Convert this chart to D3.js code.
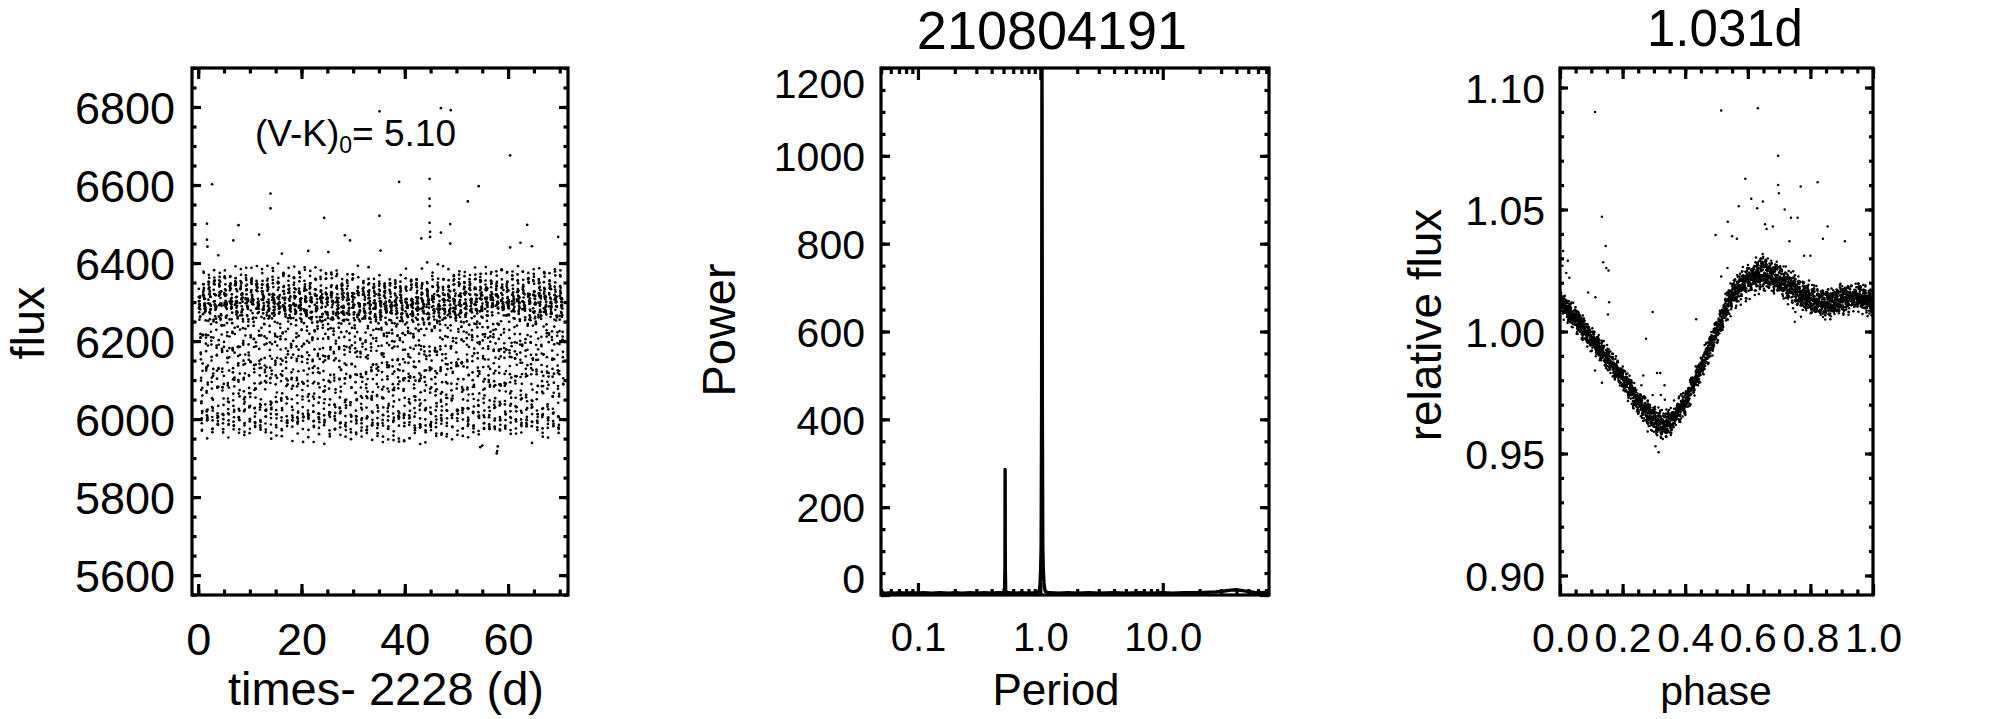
<!DOCTYPE html>
<html><head><meta charset="utf-8">
<script src="https://cdn.jsdelivr.net/npm/d3@7"></script>
<style>
body{margin:0;background:#fff}
svg{display:block}
text{font-family:"Liberation Sans",Arial,Helvetica,sans-serif;fill:#000}
</style>
</head><body>
<svg id="c" width="2005" height="719"></svg>
<script>
// ---------------- data ----------------
const starId = "210804191";
const periodLabel = "1.031d";
const colourLabel = ["(V-K)", "0", "= 5.10"];
const foldPeriod = 1.031;
const cadence = 0.020434;
const tStart = 0.1, tEnd = 70.7, tRef = 0.37;

const fluxLevelT = [0, 10, 20, 30, 40, 50, 60, 71];
const fluxLevel  = [6210, 6215, 6210, 6205, 6200, 6210, 6215, 6210];

const phaseKnots   = [0, 0.05, 0.10, 0.15, 0.20, 0.25, 0.30, 0.33, 0.36, 0.40, 0.45, 0.50, 0.55, 0.60, 0.65, 0.70, 0.75, 0.80, 0.85, 0.90, 0.95, 1.00];
const meanRelFlux  = [1.012, 1.005, 0.997, 0.989, 0.981, 0.971, 0.964, 0.961, 0.964, 0.971, 0.985, 1.000, 1.015, 1.021, 1.024, 1.021, 1.017, 1.013, 1.011, 1.013, 1.014, 1.012];
const scatterRelFlux = [0.0026, 0.0026, 0.0026, 0.0026, 0.0026, 0.0027, 0.003, 0.0031, 0.003, 0.0028, 0.0026, 0.0027, 0.0033, 0.0035, 0.0036, 0.0035, 0.0034, 0.0032, 0.003, 0.003, 0.003, 0.0027];

// fixed residual tables (sigma units)
const noiseA = [0.31,-1.12,0.84,-0.23,1.41,-0.68,0.07,-1.53,0.62,0.95,-0.41,0.02,1.13,-0.94,0.48,-0.29,-1.21,0.71,0.19,-0.57,1.32,-0.09,-0.83,0.44,1.02,-1.38,0.24,-0.51,0.79,-0.17,1.58,-1.01,0.36,0.58,-0.73,-0.12,1.21,-1.29,0.53,-0.02,-0.44,0.88,-0.91,0.13,1.47,-0.62,0.41,-1.09,0.67,-0.33,0.22,0.99,-0.79,-0.21,0.61,-1.59,0.28,0.82,-0.47,1.08,-0.06];
const noiseB = [-0.86,0.47,1.24,-0.35,-1.47,0.12,0.93,-0.64,0.29,-1.18,1.51,-0.08,0.66,-0.97,0.38,1.09,-0.26,-1.35,0.81,0.04,-0.55,1.37,-0.78,0.17,-1.03,0.59,1.19,-0.42,-0.14,0.91,-1.56,0.33,0.74,-0.69,1.45,-0.31,-0.92,0.08,1.28,-1.22,0.51,-0.04,0.97,-0.59,-1.41,0.23,0.69,-0.18,1.16,-0.87,0.39,-1.31,0.85,0.15,-0.49,1.54,-0.71,-0.11,0.57,-1.07,1.01,-0.38,0.26,-1.49,0.77,-0.24,1.33];

const lcOutliers = [[2.7,6602],[1.7,6501],[1.7,6460],[1.8,6442],[3.9,6420],[7.8,6497],[6.8,6458],[11.8,6473],[14.0,6578],[14.0,6540],[16.2,6424],[21.3,6431],[24.4,6516],[25.2,6428],[28.4,6471],[29.4,6458],[35.1,6789],[35.1,6521],[35.3,6432],[38.9,6608],[43.2,6463],[44.8,6616],[44.8,6565],[44.8,6546],[44.8,6503],[44.9,6480],[44.9,6467],[47.0,6797],[48.9,6792],[47.0,6478],[48.8,6500],[48.8,6450],[52.2,6558],[54.3,6597],[60.4,6676],[63.7,6498],[60.4,6440],[62.4,6452],[64.6,6443],[69.7,6467],[57.9,5918],[58.0,5930],[55.0,5932],[54.6,5928],[57.8,5912]];

const foldOutliers = [[0.112,1.090],[0.515,1.0906],[0.632,1.0915],[0.697,1.072],[0.134,1.047],[0.592,1.0626],[0.697,1.060],[0.699,1.0567],[0.769,1.0594],[0.823,1.0612],[0.571,1.0513],[0.611,1.0544],[0.630,1.0505],[0.648,1.0533],[0.718,1.050],[0.738,1.0466],[0.759,1.0466],[0.536,1.045],[0.497,1.0396],[0.655,1.044],[0.66,1.042],[0.68,1.043],[0.55,1.039],[0.565,1.038],[0.146,1.035],[0.138,1.0284],[0.148,1.026],[0.155,1.025],[0.733,1.037],[0.84,1.038],[0.855,1.043],[0.91,1.037],[0.78,1.031],[0.80,1.031],[0.01,1.033],[0.025,1.029],[0.008,1.027],[0.02,1.024],[0.03,1.022],[0.09,1.016],[0.157,1.012],[0.113,1.014],[0.153,1.007],[0.296,1.008],[0.275,0.997],[0.435,1.005],[0.515,1.0225],[0.535,1.026],[0.75,1.004],[0.752,1.008],[0.77,1.006],[0.266,0.982],[0.296,0.974],[0.31,0.983],[0.32,0.983],[0.322,0.974],[0.334,0.978],[0.335,0.972],[0.34,0.968],[0.26,0.978],[0.134,0.979],[0.112,0.984],[0.315,0.9505],[0.305,0.953],[0.28,0.959]];

// periodogram (panel 2)
const periods = [0.0499,0.055,0.06,0.065,0.07,0.08,0.09,0.1,0.11,0.13,0.15,0.18,0.2,0.23,0.27,0.3,0.35,0.4,0.45,0.48,0.5,0.51,0.514,0.5155,0.517,0.521,0.53,0.56,0.6,0.7,0.8,0.9,0.95,0.98,0.995,1.005,1.015,1.024,1.031,1.038,1.047,1.058,1.07,1.085,1.1,1.15,1.25,1.4,1.7,2,2.5,3,4,5,6.5,8,10,12,15,18,22,27,32,36,40,45,50,56,62,68,73.8];
const powers  = [5,4,5,4,5,4,5,4,5,4,5,4,5,4,5,4,5,4,5,5,6,10,60,286,60,10,6,5,4,5,4,5,6,10,25,55,110,420,1260,420,110,55,28,14,8,6,5,4,5,4,5,4,5,4,5,4,5,4,5,5,6,7,9,11,12,10,8,6,5,6,7];

// ticks
const lcXTicks = [0, 20, 40, 60];
const lcXMinor = d3.range(0, 71, 5);
const lcYTicks = [5600, 5800, 6000, 6200, 6400, 6600, 6800];
const lcYMinor = d3.range(5550, 6901, 50);
const pgXTicks = [0.1, 1, 10];
const pgXTickLabels = ["0.1", "1.0", "10.0"];
const pgXMinor = [0.05,0.06,0.07,0.08,0.09,0.2,0.3,0.4,0.5,0.6,0.7,0.8,0.9,2,3,4,5,6,7,8,9,20,30,40,50,60,70];
const pgYTicks = [0, 200, 400, 600, 800, 1000, 1200];
const pgYMinor = d3.range(0, 1201, 50);
const phXTicks = [0, 0.2, 0.4, 0.6, 0.8, 1.0];
const phXMinor = d3.range(0, 1.0001, 0.05);
const phYTicks = [0.90, 0.95, 1.00, 1.05, 1.10];
const phYMinor = d3.range(0.90, 1.1001, 0.01);

// ---------------- build light curve from cadence grid ----------------
const meanAt = d3.scaleLinear().domain(phaseKnots).range(meanRelFlux);
const sigAt = d3.scaleLinear().domain(phaseKnots).range(scatterRelFlux);
const levelAt = d3.scaleLinear().domain(fluxLevelT).range(fluxLevel);
const lcPts = [], foldPts = [];
for (let i = 0; ; i++) {
  const t = tStart + i * cadence;
  if (t > tEnd) break;
  let ph = ((t - tRef) / foldPeriod) % 1; if (ph < 0) ph += 1;
  const nz = (noiseA[i % noiseA.length] + noiseB[i % noiseB.length]) * 0.75;
  const rel = meanAt(ph) + sigAt(ph) * nz;
  lcPts.push([t, levelAt(t) * rel]);
  foldPts.push([ph, rel]);
}
lcOutliers.forEach(d => lcPts.push(d));
foldOutliers.forEach(d => foldPts.push(d));

// ---------------- drawing ----------------
const svg = d3.select("#c");
const FONT = "Liberation Sans, Arial, Helvetica, sans-serif";
const Y0 = 68, Y1 = 595;

function box(g, x, y, o) {
  const [xa, xb] = x.range(), [ya, yb] = y.range();
  const style = s => s.call(a => a.select(".domain").remove())
    .call(a => a.selectAll(".tick line").attr("stroke", "#000").attr("stroke-width", 3.2));
  g.append("g").attr("transform", `translate(0,${ya})`)
    .call(d3.axisBottom(x).tickValues(o.xMinor).tickSize(-o.xLen / 2).tickFormat("")).call(style);
  const bx = g.append("g").attr("transform", `translate(0,${ya})`)
    .call(d3.axisBottom(x).tickValues(o.xTicks).tickSize(-o.xLen).tickPadding(o.xPad).tickFormat(o.xFmt)).call(style);
  bx.attr("font-size", o.xFont).attr("font-family", FONT);
  g.append("g").attr("transform", `translate(0,${yb})`)
    .call(d3.axisTop(x).tickValues(o.xMinor).tickSize(-o.xLen / 2).tickFormat("")).call(style);
  g.append("g").attr("transform", `translate(0,${yb})`)
    .call(d3.axisTop(x).tickValues(o.xTicks).tickSize(-o.xLen).tickFormat("")).call(style);
  g.append("g").attr("transform", `translate(${xa},0)`)
    .call(d3.axisLeft(y).tickValues(o.yMinor).tickSize(-o.yLen / 2).tickFormat("")).call(style);
  const ly = g.append("g").attr("transform", `translate(${xa},0)`)
    .call(d3.axisLeft(y).tickValues(o.yTicks).tickSize(-o.yLen).tickPadding(o.yPad).tickFormat(o.yFmt)).call(style);
  ly.attr("font-size", o.yFont).attr("font-family", FONT);
  ly.selectAll("text").attr("dy", "0.36em");
  g.append("g").attr("transform", `translate(${xb},0)`)
    .call(d3.axisRight(y).tickValues(o.yMinor).tickSize(-o.yLen / 2).tickFormat("")).call(style);
  g.append("g").attr("transform", `translate(${xb},0)`)
    .call(d3.axisRight(y).tickValues(o.yTicks).tickSize(-o.yLen).tickFormat("")).call(style);
  g.append("rect").attr("x", xa).attr("y", yb).attr("width", xb - xa).attr("height", ya - yb)
    .attr("fill", "none").attr("stroke", "#000").attr("stroke-width", 3.2);
  return {bx, ly};
}

function clip(id, x, y) {
  const [xa, xb] = x.range(), [ya, yb] = y.range();
  svg.append("clipPath").attr("id", id).append("rect")
    .attr("x", xa).attr("y", yb).attr("width", xb - xa).attr("height", ya - yb);
  return `url(#${id})`;
}

// ---- panel 1: light curve ----
{
  const x = d3.scaleLinear().domain([-1.2, 71.6]).range([192, 568]);
  const y = d3.scaleLinear().domain([5549, 6900]).range([Y1, Y0]);
  const g = svg.append("g");
  g.append("g").attr("clip-path", clip("c1", x, y)).selectAll("circle").data(lcPts).join("circle")
    .attr("cx", d => x(d[0])).attr("cy", d => y(d[1])).attr("r", 1.35).attr("fill", "#000");
  box(g, x, y, {xTicks: lcXTicks, xMinor: lcXMinor, yTicks: lcYTicks, yMinor: lcYMinor,
    xLen: 11, yLen: 9, xPad: 28, yPad: 17, xFont: 45, yFont: 45,
    xFmt: d3.format("d"), yFmt: d3.format("d")});
  g.append("text").attr("transform", "translate(44,323) rotate(-90)").attr("text-anchor", "middle")
    .attr("font-size", 47).text("flux");
  g.append("text").attr("x", 386).attr("y", 705).attr("text-anchor", "middle")
    .attr("font-size", 47).text("times- 2228 (d)");
  const t = g.append("text").attr("x", 255).attr("y", 146).attr("font-size", 37);
  t.append("tspan").text(colourLabel[0]);
  t.append("tspan").attr("dy", 7).attr("font-size", 23).text(colourLabel[1]);
  t.append("tspan").attr("dy", -7).text(colourLabel[2]);
}

// ---- panel 2: periodogram ----
{
  const x = d3.scaleLog().domain([0.0499, 73.8]).range([881, 1269]);
  const y = d3.scaleLinear().domain([0, 1200]).range([Y1, Y0]);
  const g = svg.append("g");
  const pts = periods.slice(0, powers.length).map((p, i) => [p, powers[i]]);
  g.append("path").attr("clip-path", clip("c2", x, y)).datum(pts)
    .attr("d", d3.line().x(d => x(d[0])).y(d => y(d[1])))
    .attr("fill", "none").attr("stroke", "#000").attr("stroke-width", 3.4).attr("stroke-linejoin", "round");
  const {ly} = box(g, x, y, {xTicks: pgXTicks, xMinor: pgXMinor, yTicks: pgYTicks, yMinor: pgYMinor,
    xLen: 12, yLen: 9, xPad: 28, yPad: 16, xFont: 40, yFont: 41,
    xFmt: d => pgXTickLabels[pgXTicks.indexOf(d)], yFmt: d3.format("d")});
  ly.selectAll(".tick").filter(d => d === 0).select("text").attr("y", -17);
  ly.selectAll(".tick").filter(d => d === 1200).select("text").attr("y", 15);
  g.append("text").attr("transform", "translate(735,330) rotate(-90)").attr("text-anchor", "middle")
    .attr("font-size", 47).text("Power");
  g.append("text").attr("x", 1056).attr("y", 705).attr("text-anchor", "middle")
    .attr("font-size", 44).text("Period");
  g.append("text").attr("x", 1052).attr("y", 49).attr("text-anchor", "middle")
    .attr("font-size", 54).text(starId);
}

// ---- panel 3: folded light curve ----
{
  const x = d3.scaleLinear().domain([0, 1]).range([1560, 1873]);
  const y = d3.scaleLinear().domain([0.892, 1.108]).range([Y1, Y0]);
  const g = svg.append("g");
  g.append("g").attr("clip-path", clip("c3", x, y)).selectAll("circle").data(foldPts).join("circle")
    .attr("cx", d => x(d[0])).attr("cy", d => y(d[1])).attr("r", 1.25).attr("fill", "#000");
  box(g, x, y, {xTicks: phXTicks, xMinor: phXMinor, yTicks: phYTicks, yMinor: phYMinor,
    xLen: 11, yLen: 8, xPad: 28, yPad: 15, xFont: 41, yFont: 41,
    xFmt: d3.format(".1f"), yFmt: d3.format(".2f")});
  g.append("text").attr("transform", "translate(1441,325) rotate(-90)").attr("text-anchor", "middle")
    .attr("font-size", 46).text("relative flux");
  g.append("text").attr("x", 1716).attr("y", 705).attr("text-anchor", "middle")
    .attr("font-size", 41).text("phase");
  g.append("text").attr("x", 1725).attr("y", 46).attr("text-anchor", "middle")
    .attr("font-size", 51).text(periodLabel);
}
</script>
</body></html>
